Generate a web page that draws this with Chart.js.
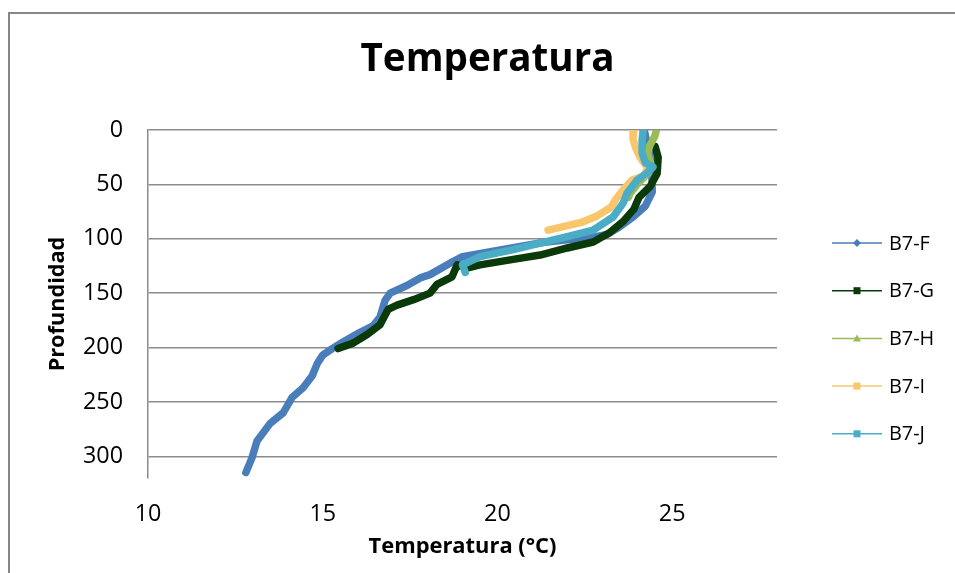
<!DOCTYPE html>
<html>
<head>
<meta charset="utf-8">
<script src="https://cdn.jsdelivr.net/npm/chart.js@4.4.1/dist/chart.umd.min.js"></script>
<style>
  html, body { margin: 0; padding: 0; background: #ffffff; }
  #wrap { width: 955px; height: 573px; position: relative; }
</style>
</head>
<body>
<div id="wrap"><canvas id="c" width="955" height="573"></canvas></div>
<script>
// ---- Data ----
const seriesNames = ['B7-F', 'B7-G', 'B7-H', 'B7-I', 'B7-J'];

const fTemp  = [24.2, 24.28, 24.45, 24.42, 24.43, 24.23, 23.88, 23.5, 23.14, 22.66, 22.0, 21.4, 20.65, 19.8, 19.0, 18.73, 18.07, 17.79, 17.41, 16.93, 16.78, 16.64, 16.44, 16.07, 15.58, 15.27, 15.0, 14.84, 14.7, 14.44, 14.12, 13.87, 13.49, 13.12, 12.98, 12.8];
const fDepth = [0, 12, 27, 43, 57, 70, 80, 89, 96, 99, 101, 103, 107, 112, 116.5, 121, 133, 136, 143, 150, 157, 172, 180, 186, 195, 201, 207, 215, 226, 237, 246, 260, 270, 286, 301, 315];

const gTemp  = [24.51, 24.6, 24.57, 24.37, 24.05, 23.9, 23.6, 23.23, 22.74, 22.0, 21.22, 20.45, 19.5, 19.13, 18.85, 18.7, 18.27, 18.07, 17.6, 17.13, 16.87, 16.64, 16.27, 15.87, 15.44];
const gDepth = [15, 25, 40, 52, 62, 73, 84, 94, 103, 108.5, 115, 119, 124, 127, 124, 135, 142, 150, 156, 161, 165, 179, 188, 196, 201];

const hTemp  = [24.55, 24.5, 24.35, 24.3, 24.4, 24.3, 24.0, 23.8, 23.75];
const hDepth = [0, 6, 15, 22, 32, 40, 50, 58, 62];

const iTemp  = [23.9, 23.88, 23.95, 24.1, 24.3, 24.2, 23.85, 23.6, 23.4, 23.25, 22.85, 22.4, 22.0, 21.45];
const iDepth = [0, 8, 16, 26, 35, 42, 46, 55, 63, 71, 79, 85, 88, 92];

const jTemp  = [24.17, 24.14, 24.14, 24.23, 24.45, 24.26, 24.0, 23.71, 23.6, 23.31, 22.74, 22.0, 21.22, 20.45, 19.5, 19.0, 19.08];
const jDepth = [0, 9, 21, 30, 34, 40, 46, 58, 67, 80, 92, 98, 104, 110, 116.5, 124, 131];

const xTickValues = [10, 15, 20, 25];
const yTickValues = [0, 50, 100, 150, 200, 250, 300];

// ---- Styling ----
const colors  = ['#4A7EBB', '#0A3A0A', '#9BBB59', '#F9C66C', '#4BACC6'];
const markers = ['diamond', 'square', 'triangle', 'square', 'square'];
const FAMILY = '"Open Sans", "DejaVu Sans", sans-serif';

function fitSize(text, weight, target) {
  const cv = document.createElement('canvas').getContext('2d');
  cv.font = weight + ' 100px ' + FAMILY;
  return Math.round(100 * target / cv.measureText(text).width * 10) / 10;
}
const titleSize  = fitSize('Temperatura', 'bold', 254);
const xTitleSize = fitSize('Temperatura (°C)', 'bold', 188);
const yTitleSize = fitSize('Profundidad', 'bold', 135);
const tickSize   = fitSize('300', 'normal', 40);
const legendSize = fitSize('B7-F', 'normal', 41);

const PAD_LEFT = 20;

function pts(t, d) { return t.map((v, i) => ({ x: v, y: d[i] })); }
const allT = [fTemp, gTemp, hTemp, iTemp, jTemp];
const allD = [fDepth, gDepth, hDepth, iDepth, jDepth];

const datasets = seriesNames.map((name, k) => ({
  label: name,
  data: pts(allT[k], allD[k]),
  borderColor: colors[k],
  backgroundColor: colors[k],
  borderWidth: 7.5,
  borderJoinStyle: 'round',
  borderCapStyle: 'round',
  pointRadius: 0,
  showLine: true,
  tension: 0,
  yAxisID: 'y',
  order: seriesNames.length - 1 - k
}));

const frame = {
  id: 'frame',
  beforeDraw(chart) {
    const ctx = chart.ctx;
    ctx.save();
    ctx.fillStyle = '#ffffff';
    ctx.fillRect(0, 0, chart.width, chart.height);
    ctx.strokeStyle = '#878787';
    ctx.lineWidth = 2;
    ctx.strokeRect(9, 13, 2000, 2000);
    ctx.restore();
  }
};

const sideLegend = {
  id: 'sideLegend',
  afterDraw(chart) {
    const ctx = chart.ctx;
    ctx.save();
    chart.data.datasets.forEach((ds, k) => {
      const y = 243 + k * 47.7;
      ctx.strokeStyle = ds.borderColor;
      ctx.lineWidth = 1.5;
      ctx.beginPath(); ctx.moveTo(832, y); ctx.lineTo(882, y); ctx.stroke();
      ctx.fillStyle = ds.borderColor;
      const m = markers[k], cx = 857, r = 4;
      ctx.beginPath();
      if (m === 'diamond') { ctx.moveTo(cx, y - r); ctx.lineTo(cx + r, y); ctx.lineTo(cx, y + r); ctx.lineTo(cx - r, y); ctx.closePath(); }
      else if (m === 'triangle') { ctx.moveTo(cx, y - r); ctx.lineTo(cx + r, y + r * 0.8); ctx.lineTo(cx - r, y + r * 0.8); ctx.closePath(); }
      else { ctx.rect(cx - 3.5, y - 3.5, 7, 7); }
      ctx.fill();
      ctx.fillStyle = '#000000';
      ctx.font = 'normal ' + legendSize + 'px ' + FAMILY;
      ctx.textAlign = 'left';
      ctx.textBaseline = 'middle';
      ctx.fillText(ds.label, 889, y + 1);
    });
    ctx.restore();
  }
};

new Chart(document.getElementById('c'), {
  type: 'scatter',
  data: { datasets },
  plugins: [frame, sideLegend],
  options: {
    responsive: false,
    animation: false,
    devicePixelRatio: 1,
    layout: { padding: { left: PAD_LEFT, right: 0, top: 0, bottom: 0 } },
    plugins: {
      legend: { display: false },
      tooltip: { enabled: false },
      title: {
        display: true,
        text: 'Temperatura',
        color: '#000000',
        font: { family: FAMILY, size: titleSize, weight: 'bold', lineHeight: 1.2 },
        padding: { top: 60 - titleSize * 0.6, bottom: 130 - (60 + titleSize * 0.6) }
      }
    },
    scales: {
      x: {
        type: 'linear',
        min: 10, max: 28,
        afterBuildTicks: (s) => { s.ticks = xTickValues.map(v => ({ value: v })); },
        afterFit: (s) => { s.height = 573 - 478; },
        grid: { display: false, drawTicks: false },
        border: { display: false },
        ticks: { color: '#000000', padding: 22, maxRotation: 0, font: { family: FAMILY, size: tickSize } },
        title: {
          display: true,
          text: 'Temperatura (°C)',
          color: '#000000',
          font: { family: FAMILY, size: xTitleSize, weight: 'bold', lineHeight: 1.2 },
          padding: { top: 0, bottom: 573 - 547 - xTitleSize * 0.6 }
        }
      },
      y: {
        type: 'linear',
        position: 'left',
        reverse: true,
        min: 0, max: 320,
        afterBuildTicks: (s) => { s.ticks = yTickValues.map(v => ({ value: v })); },
        afterFit: (s) => { s.width = 148 - PAD_LEFT; },
        grid: { color: '#8C8C8C', lineWidth: 1.5, drawTicks: false },
        border: { display: true, color: '#8C8C8C', width: 1.5 },
        ticks: { color: '#000000', padding: 25, font: { family: FAMILY, size: tickSize } },
        title: {
          display: true,
          text: 'Profundidad',
          color: '#000000',
          font: { family: FAMILY, size: yTitleSize, weight: 'bold', lineHeight: 1.2 },
          padding: { top: 58 - PAD_LEFT - yTitleSize * 0.6, bottom: 0 }
        }
      },
      legendSpace: {
        type: 'linear',
        position: 'right',
        display: true,
        min: 0, max: 1,
        afterFit: (s) => { s.width = 955 - 777; },
        grid: { display: false, drawTicks: false },
        border: { display: false },
        ticks: { display: false }
      }
    }
  }
});
</script>
</body>
</html>
